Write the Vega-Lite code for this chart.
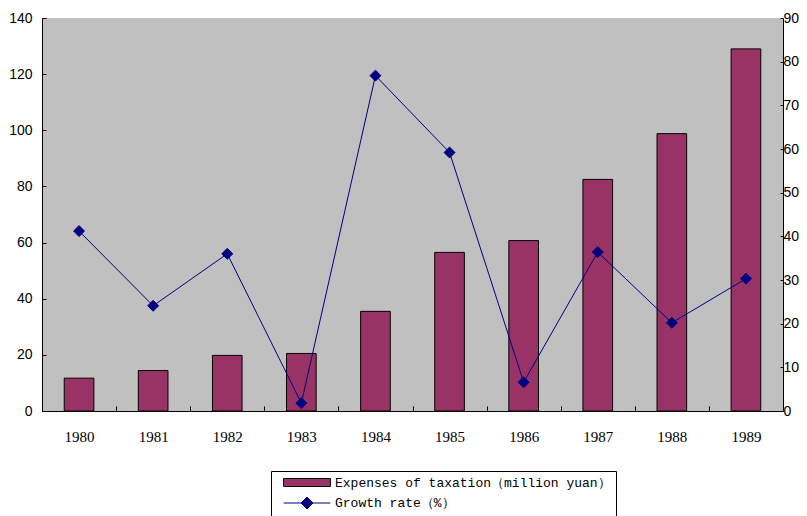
{
  "$schema": "https://vega.github.io/schema/vega-lite/v6.json",
  "width": 741,
  "height": 393,
  "autosize": {"type": "none"},
  "padding": {"left": 42, "top": 18, "right": 24, "bottom": 105},
  "background": "white",
  "config": {
    "view": {"fill": "#C0C0C0", "stroke": null},
    "axis": {"grid": false, "domainColor": "#000", "tickColor": "#000", "labelColor": "#000", "title": null}
  },
  "data": {
    "values": [
      {"year": "1980", "expenses": 11.7, "growth": 41.2},
      {"year": "1981", "expenses": 14.4, "growth": 24.1},
      {"year": "1982", "expenses": 19.8, "growth": 36.0},
      {"year": "1983", "expenses": 20.5, "growth": 1.8},
      {"year": "1984", "expenses": 35.5, "growth": 76.8},
      {"year": "1985", "expenses": 56.5, "growth": 59.2},
      {"year": "1986", "expenses": 60.7, "growth": 6.6},
      {"year": "1987", "expenses": 82.5, "growth": 36.4},
      {"year": "1988", "expenses": 98.8, "growth": 20.2},
      {"year": "1989", "expenses": 129.0, "growth": 30.3}
    ]
  },
  "encoding": {
    "x": {
      "field": "year",
      "type": "ordinal",
      "scale": {"paddingInner": 0, "paddingOuter": 0},
      "axis": {
        "labelAngle": 0,
        "labelFont": "Liberation Serif",
        "labelFontSize": 15,
        "tickBand": "extent",
        "tickSize": -5,
        "labelPadding": 23
      }
    }
  },
  "layer": [
    {
      "mark": {"type": "bar", "width": {"band": 0.4}, "stroke": "#000", "strokeWidth": 1},
      "encoding": {
        "y": {
          "field": "expenses",
          "type": "quantitative",
          "scale": {"domain": [0, 140]},
          "axis": {
            "values": [0, 20, 40, 60, 80, 100, 120, 140],
            "labelFont": "Liberation Sans",
            "labelFontSize": 14,
            "tickSize": -4,
            "labelPadding": 14
          }
        },
        "color": {
          "datum": "Expenses of taxation（million yuan）",
          "type": "nominal",
          "scale": {"range": ["#993366"]},
          "legend": {
            "orient": "none",
            "direction": "vertical",
            "legendX": 229,
            "legendY": 453,
            "title": " ",
            "titleOrient": "bottom",
            "titleFontSize": 30,
            "titlePadding": 10,
            "padding": 5,
            "strokeColor": "#000",
            "labelFont": "Liberation Mono",
            "labelFontSize": 13,
            "labelColor": "#000",
            "labelLimit": 500,
            "symbolSize": 144,
            "symbolType": "M-3.9,-0.67H3.9V0.67H-3.9Z",
            "symbolStrokeColor": "#000",
            "symbolStrokeWidth": 1,
            "symbolOpacity": 1,
            "symbolOffset": 24.5,
            "labelOffset": 21.5
          }
        }
      }
    },
    {
      "encoding": {
        "y": {
          "field": "growth",
          "type": "quantitative",
          "scale": {"domain": [0, 90]},
          "axis": {
            "orient": "right",
            "values": [0, 10, 20, 30, 40, 50, 60, 70, 80, 90],
            "labelFont": "Liberation Sans",
            "labelFontSize": 14,
            "tickSize": -3,
            "labelPadding": 3
          }
        },
        "color": {
          "datum": "Growth rate（%）",
          "type": "nominal",
          "scale": {"range": ["#000080"]},
          "legend": {
            "orient": "none",
            "direction": "vertical",
            "legendX": 229,
            "legendY": 473.5,
            "title": null,
            "padding": 5,
            "labelFont": "Liberation Mono",
            "labelFontSize": 13,
            "labelColor": "#000",
            "labelLimit": 500,
            "symbolSize": 144,
            "symbolType": "M-3.9,0H3.9M0,-1L1,0L0,1L-1,0Z",
            "symbolStrokeColor": "#000080",
            "symbolFillColor": "#000080",
            "symbolStrokeWidth": 1,
            "symbolOpacity": 1,
            "symbolOffset": 24.5,
            "labelOffset": 21.5
          }
        }
      },
      "layer": [
        {"mark": {"type": "line", "strokeWidth": 1}},
        {"mark": {"type": "point", "shape": "diamond", "filled": true, "size": 120, "opacity": 1, "stroke": "#000080", "strokeWidth": 1}}
      ]
    }
  ],
  "resolve": {"scale": {"y": "independent", "color": "independent"}}
}
